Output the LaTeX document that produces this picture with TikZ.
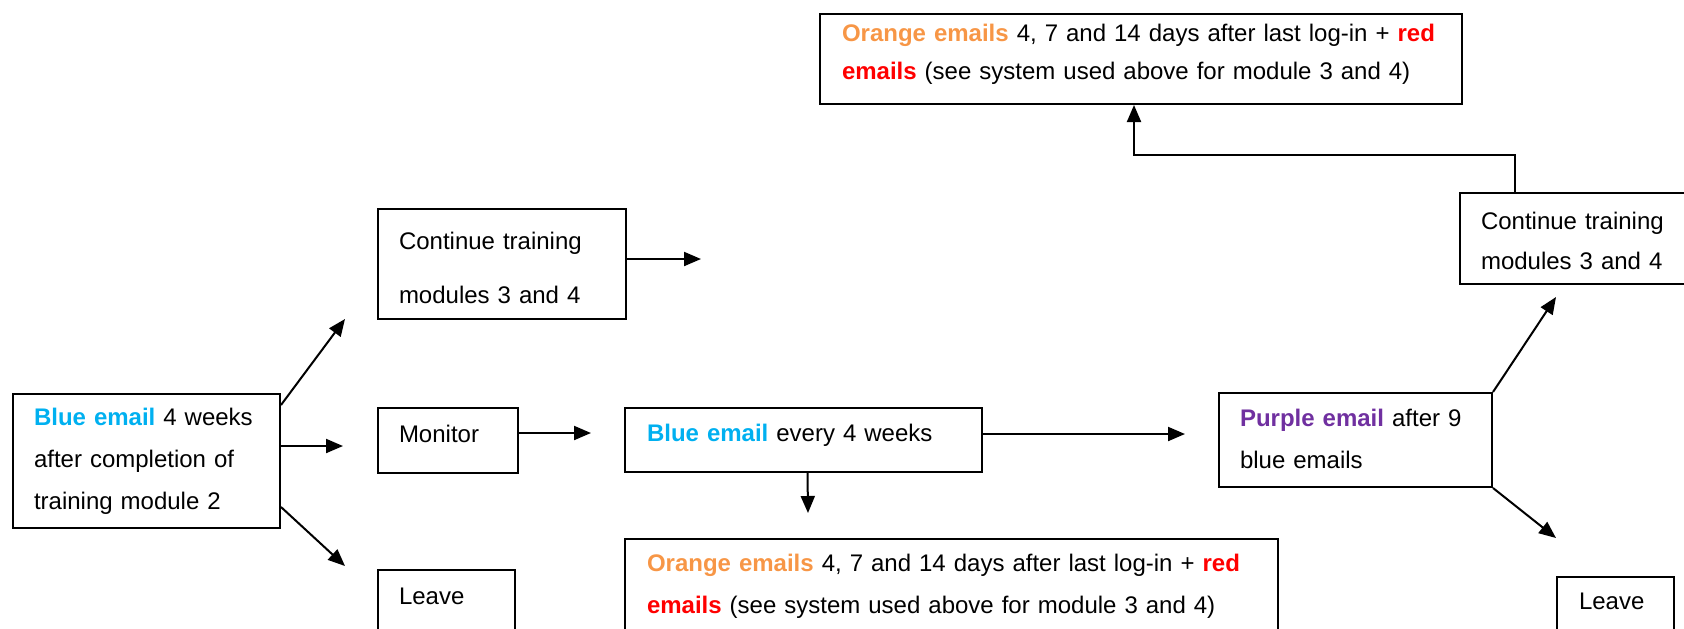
\documentclass[tikz,border=0pt]{standalone}
\usepackage{fontspec}
\setmainfont{Liberation Sans}
\usepackage{tikz}
\usetikzlibrary{arrows.meta}
\definecolor{emblue}{RGB}{0,176,240}
\definecolor{emorange}{RGB}{247,150,70}
\definecolor{emred}{RGB}{255,0,0}
\definecolor{empurple}{RGB}{112,48,160}
\tikzset{stepbox/.style = {draw, line width=1pt, anchor=north west, align=left,
                           inner xsep=10.5pt, inner ysep=0pt,
                           font=\fontsize{12}{21}\selectfont}}
\tikzset{arr/.style = {line width=1pt, -{Triangle[length=8.5pt,width=7pt]}}}

\begin{document}
\begin{tikzpicture}[x=0.5pt, y=-0.5pt]
    \useasboundingbox (0,0) rectangle (1684,628);
    \clip (0,0) rectangle (1684,628);
    \node [stepbox, text width=112.5pt, text height=15.5pt, text depth=51.5pt] (start) at (12,393)
      {\textcolor{emblue}{\textbf{Blue email}} 4 weeks\\ after completion of\\ training module 2};
    \node [stepbox, text width=103pt, text height=20pt, text depth=35pt,
           font=\fontsize{12}{27}\selectfont] (cont1) at (377,208)
      {Continue training\\ modules 3 and 4};
    \node [stepbox, text width=49pt, text height=17pt, text depth=15.5pt] (monitor) at (377,407) {Monitor};
    \node [stepbox, text width=47.5pt, text height=17pt, text depth=23pt] (leave1) at (377,569) {Leave};
    \node [stepbox, inner xsep=11pt, text width=156.5pt, text height=16.5pt, text depth=15.5pt] (blue4) at (624,407)
      {\textcolor{emblue}{\textbf{Blue email}} every 4 weeks};
    \node [stepbox, inner xsep=11pt, text width=304.5pt, text height=16pt, text depth=34pt] (orange1) at (624,538)
      {\textcolor{emorange}{\textbf{Orange emails}} 4, 7 and 14 days after last log-in + \textcolor{emred}{\textbf{red}}\\
       \textcolor{emred}{\textbf{emails}} (see system used above for module 3 and 4)};
    \node [stepbox, text width=115.5pt, text height=16.5pt, text depth=30.5pt] (purple) at (1218,392)
      {\makebox[117pt][s]{\textcolor{empurple}{\textbf{Purple email}} after 9}\\ blue emails};
    \node [stepbox, text width=103pt, text height=18pt, text depth=27.5pt,
           font=\fontsize{12}{20}\selectfont] (cont2) at (1459,192)
      {Continue training\\ modules 3 and 4};
    \node [stepbox, inner xsep=11pt, text width=36.5pt, text height=16pt, text depth=20pt] (leave2) at (1556,576) {Leave};
    \node [stepbox, inner xsep=11pt, text width=299pt, text height=13.5pt, text depth=31.5pt,
           font=\fontsize{12}{19}\selectfont] (orange2) at (819,13)
      {\textcolor{emorange}{\textbf{Orange emails}} 4, 7 and 14 days after last log-in + \textcolor{emred}{\textbf{red}}\\
       \textcolor{emred}{\textbf{emails}} (see system used above for module 3 and 4)};

    \coordinate (upEnd) at (345,319);
    \coordinate (midEnd) at (343,445);
    \coordinate (lowEnd) at (345,566);
    \coordinate (cont1End) at (701,258);
    \coordinate (monEnd) at (591,432);
    \coordinate (blueEnd) at (1185,433);
    \coordinate (downEnd) at (808,513);
    \coordinate (purpUp) at (1556,297);
    \coordinate (purpDown) at (1556,538);

    \draw [arr] ([yshift=-6pt]start.north east) -- (upEnd);
    \draw [arr] ([yshift=7.5pt]start.east) -- ([yshift=7.5pt]start.east -| midEnd);
    \draw [arr] ([yshift=11pt]start.south east) -- (lowEnd);
    \draw [arr] ([yshift=2.5pt]cont1.east) -- ([yshift=2.5pt]cont1.east -| cont1End);
    \draw [arr] ([yshift=3.75pt]monitor.east) -- ([yshift=3.75pt]monitor.east -| monEnd);
    \draw [arr] ([yshift=3pt]blue4.east) -- ([yshift=3pt]blue4.east -| blueEnd);
    \draw [arr] ([xshift=2pt]blue4.south) -- (downEnd);
    \draw [arr] (purple.north east) -- (purpUp);
    \draw [arr] (purple.south east) -- (purpDown);
    \draw [arr] ([xshift=28pt]cont2.north west) -- ++(0,-37) -| ([xshift=-3.5pt]orange2.south);
\end{tikzpicture}
\end{document}
